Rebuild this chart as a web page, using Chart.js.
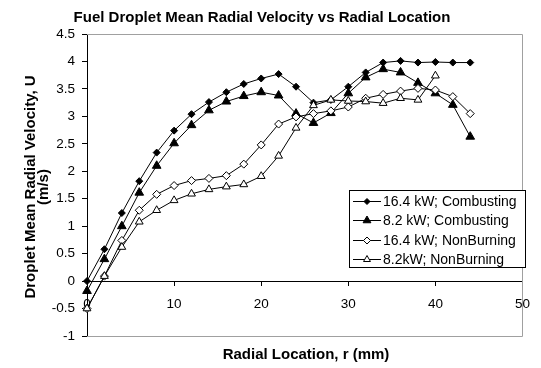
<!DOCTYPE html>
<html>
<head>
<meta charset="utf-8">
<script src="https://cdn.jsdelivr.net/npm/chart.js@4/dist/chart.umd.min.js"></script>
<style>
  html, body { margin: 0; padding: 0; background: #fff; }
  #wrap { width: 541px; height: 368px; }
</style>
</head>
<body>
<div id="wrap"><canvas id="c" width="541" height="368"></canvas></div>
<script>
// Radial location r (mm)
const radius = [0, 2, 4, 6, 8, 10, 12, 14, 16, 18, 20, 22, 24, 26, 28, 30, 32, 34, 36, 38, 40, 42, 44];

// Mean radial velocity U (m/s) per case
const comb164 = [0, 0.58, 1.24, 1.82, 2.34, 2.74, 3.04, 3.26, 3.44, 3.59, 3.69, 3.77, 3.54, 3.25, 3.30, 3.54, 3.80, 3.98, 4.01, 3.98, 3.99, 3.98, 3.98];
const comb82  = [-0.18, 0.40, 1.00, 1.61, 2.10, 2.51, 2.84, 3.11, 3.27, 3.37, 3.44, 3.38, 3.05, 2.88, 3.06, 3.42, 3.71, 3.86, 3.80, 3.61, 3.42, 3.21, 2.63];
const nonb164 = [-0.5, 0.09, 0.74, 1.29, 1.58, 1.74, 1.83, 1.87, 1.92, 2.13, 2.48, 2.86, 2.99, 3.05, 3.10, 3.17, 3.33, 3.40, 3.46, 3.51, 3.48, 3.36, 3.05];
const nonb82  = [-0.5, 0.09, 0.62, 1.08, 1.29, 1.47, 1.59, 1.67, 1.72, 1.76, 1.91, 2.28, 2.79, 3.20, 3.30, 3.28, 3.27, 3.24, 3.33, 3.30, 3.74];

const seriesNames = ['16.4 kW; Combusting', '8.2 kW; Combusting', '16.4 kW; NonBurning', '8.2kW; NonBurning'];

const titleText = 'Fuel Droplet Mean Radial Velocity vs Radial Location';
const xTitle = 'Radial Location, r (mm)';
const yTitle = ['Droplet Mean Radial Velocity, U', '(m/s)'];

const pts = vals => vals.map((v, i) => ({ x: radius[i], y: v }));

function series(label, vals, style, radiusPx, filled) {
  return {
    label,
    data: pts(vals),
    borderColor: '#000',
    borderWidth: 1,
    pointStyle: style,
    pointRadius: radiusPx,
    pointHoverRadius: radiusPx,
    pointBackgroundColor: filled ? '#000' : '#fff',
    pointBorderColor: '#000',
    pointBorderWidth: 1,
    tension: 0,
    fill: false,
    clip: false
  };
}

const datasets = [
  series(seriesNames[0], comb164, 'rectRot', 3.5, true),
  series(seriesNames[1], comb82, 'triangle', 5, true),
  series(seriesNames[2], nonb164, 'rectRot', 4, false),
  series(seriesNames[3], nonb82, 'triangle', 4.5, false)
];
// later series drawn on top
datasets.forEach((d, i) => d.order = datasets.length - i);

const FONT = '"Liberation Sans", Arial, sans-serif';

// Frame, titles and legend box
const decorations = {
  id: 'decorations',
  beforeDatasetsDraw(chart) {
    const { ctx, chartArea: a } = chart;
    ctx.save();
    ctx.strokeStyle = '#a0a0a0';
    ctx.lineWidth = 1;
    ctx.beginPath();
    ctx.moveTo(a.left, a.top + 0.5);
    ctx.lineTo(Math.round(a.right) + 0.5, a.top + 0.5);
    ctx.lineTo(Math.round(a.right) + 0.5, Math.round(a.bottom) + 0.5);
    ctx.lineTo(a.left, Math.round(a.bottom) + 0.5);
    ctx.stroke();
    ctx.restore();
  },
  afterDraw(chart) {
    const { ctx, chartArea: a } = chart;
    ctx.save();
    ctx.fillStyle = '#000';
    ctx.font = 'bold 15px ' + FONT;
    ctx.textAlign = 'center';
    ctx.textBaseline = 'alphabetic';
    ctx.fillText(titleText, 262, 21.5);
    ctx.fillText(xTitle, 306, 359);

    ctx.save();
    ctx.translate(0, (a.top + a.bottom) / 2 + 2);
    ctx.rotate(-Math.PI / 2);
    ctx.textBaseline = 'middle';
    ctx.fillText(yTitle[0], 0, 31);
    ctx.fillText(yTitle[1], 0, 44);
    ctx.restore();

    // legend
    const box = { x: 349.5, y: 190.5, w: 176, h: 77 };
    ctx.fillStyle = '#fff';
    ctx.fillRect(box.x, box.y, box.w, box.h);
    ctx.strokeStyle = '#000';
    ctx.lineWidth = 1;
    ctx.strokeRect(box.x, box.y, box.w, box.h);
    ctx.font = '14px ' + FONT;
    ctx.textAlign = 'left';
    ctx.textBaseline = 'middle';
    chart.data.datasets.forEach((d, i) => {
      const y = Math.round(box.y + 10 + i * 19.5) + 0.5;
      ctx.strokeStyle = '#000';
      ctx.beginPath();
      ctx.moveTo(353, y);
      ctx.lineTo(381, y);
      ctx.stroke();
      ctx.fillStyle = d.pointBackgroundColor;
      ctx.strokeStyle = '#000';
      Chart.helpers.drawPoint(ctx, { pointStyle: d.pointStyle, radius: d.pointRadius - 0.5, borderWidth: 1, rotation: 0 }, 367, y);
      ctx.fillStyle = '#000';
      ctx.fillText(d.label, 383, y + 1);
    });
    ctx.restore();
  }
};

const tickText = v => String(Math.round(v * 10) / 10);

new Chart(document.getElementById('c'), {
  type: 'line',
  data: { datasets },
  options: {
    responsive: false,
    animation: false,
    events: [],
    layout: { padding: { top: 34, right: 9, bottom: 32, left: 0 } },
    plugins: {
      legend: { display: false },
      title: { display: false },
      tooltip: { enabled: false }
    },
    scales: {
      x: {
        type: 'linear',
        position: { y: 0 },
        min: 0,
        max: 50,
        ticks: { stepSize: 10, color: '#000', font: { family: FONT, size: 13.5 }, padding: 11, maxRotation: 0, callback: tickText },
        grid: { drawOnChartArea: false, tickLength: 4, color: '#000' },
        border: { color: '#000', width: 1 }
      },
      y: {
        type: 'linear',
        min: -1,
        max: 4.5,
        afterFit(scale) { scale.width = 87; },
        ticks: { stepSize: 0.5, color: '#000', font: { family: FONT, size: 13.5 }, padding: 7, callback: tickText },
        grid: { drawOnChartArea: false, tickLength: 5, color: '#000' },
        border: { color: '#000', width: 1 }
      }
    }
  },
  plugins: [decorations]
});
</script>
</body>
</html>
